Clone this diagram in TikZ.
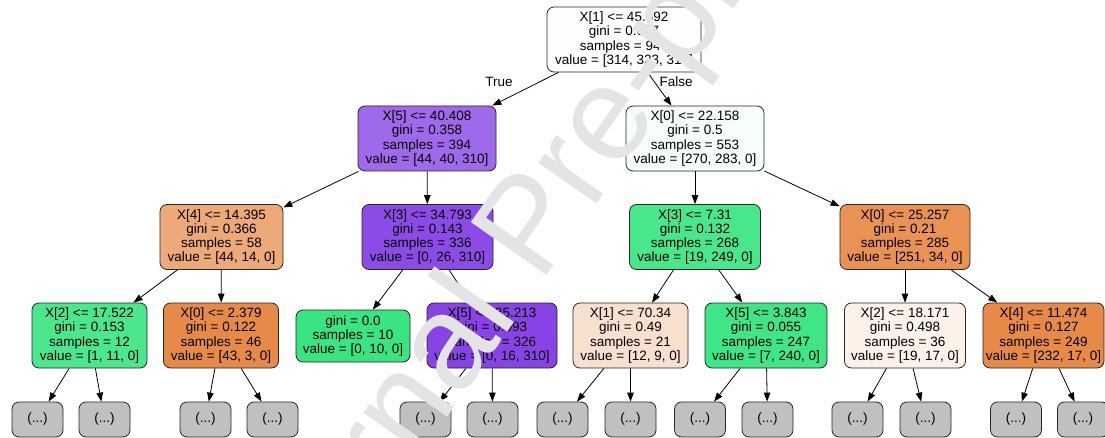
\documentclass[tikz,border=0pt]{standalone}
\usepackage{fontspec}
\setmainfont{Liberation Sans}
\usetikzlibrary{arrows.meta}
\definecolor{cRoot}{HTML}{FCFFFD}
\definecolor{cL}{HTML}{9F69EB}
\definecolor{cR}{HTML}{F6FEF9}
\definecolor{cLL}{HTML}{EDA978}
\definecolor{cLR}{HTML}{8C4AE7}
\definecolor{cRL}{HTML}{48E78B}
\definecolor{cRR}{HTML}{E99254}
\definecolor{cLLL}{HTML}{4BE78D}
\definecolor{cLLR}{HTML}{E78A47}
\definecolor{cLRL}{HTML}{39E581}
\definecolor{cLRR}{HTML}{8743E6}
\definecolor{cRLL}{HTML}{F8E0CE}
\definecolor{cRLR}{HTML}{3FE685}
\definecolor{cRRL}{HTML}{FCF2EA}
\definecolor{cRRR}{HTML}{E78A48}
\definecolor{cLeaf}{HTML}{C0C0C0}
\definecolor{cWm}{RGB}{228,228,228}
\tikzset{
  tn/.style={draw=black!85, line width=0.8pt, rounded corners=7pt, align=center,
    inner sep=0pt, font=\fontsize{13.5}{14.2}\selectfont, text=black},
  big/.style={tn, minimum height=65pt},
  small/.style={tn, minimum height=52pt},
  lf/.style={tn, fill=cLeaf, minimum width=51pt, minimum height=35pt},
  edg/.style={-{Triangle[length=9pt,width=6.5pt]}, line width=0.8pt, black},
  lbl/.style={font=\fontsize{13.5}{14.2}\selectfont, inner sep=0pt},
}
\begin{document}
\begin{tikzpicture}[x=1pt,y=-1pt]
\useasboundingbox (0,0) rectangle (1105,438);
% level 0
\node[big, fill=cRoot, minimum width=154pt] (root) at (624,39.5)
  {X[1] <= 45.592\\gini = 0.667\\samples = 947\\value = [314, 323, 310]};
% level 1
\node[big, fill=cL, minimum width=138pt] (L) at (427,138.5)
  {X[5] <= 40.408\\gini = 0.358\\samples = 394\\value = [44, 40, 310]};
\node[big, fill=cR, minimum width=138pt] (R) at (695,138.5)
  {X[0] <= 22.158\\gini = 0.5\\samples = 553\\value = [270, 283, 0]};
% level 2
\node[big, fill=cLL, minimum width=123pt] (LL) at (221.5,237)
  {X[4] <= 14.395\\gini = 0.366\\samples = 58\\value = [44, 14, 0]};
\node[big, fill=cLR, minimum width=131pt] (LR) at (427.5,237)
  {X[3] <= 34.793\\gini = 0.143\\samples = 336\\value = [0, 26, 310]};
\node[big, fill=cRL, minimum width=131pt] (RL) at (695,237)
  {X[3] <= 7.31\\gini = 0.132\\samples = 268\\value = [19, 249, 0]};
\node[big, fill=cRR, minimum width=130pt] (RR) at (905,237)
  {X[0] <= 25.257\\gini = 0.21\\samples = 285\\value = [251, 34, 0]};
% level 3
\node[big, fill=cLLL, minimum width=115pt] (LLL) at (89.5,335.5)
  {X[2] <= 17.522\\gini = 0.153\\samples = 12\\value = [1, 11, 0]};
\node[big, fill=cLLR, minimum width=115pt] (LLR) at (221,335.5)
  {X[0] <= 2.379\\gini = 0.122\\samples = 46\\value = [43, 3, 0]};
\node[small, fill=cLRL, minimum width=114pt] (LRL) at (353,336)
  {gini = 0.0\\samples = 10\\value = [0, 10, 0]};
\node[big, fill=cLRR, minimum width=130pt] (LRR) at (492,335.5)
  {X[5] <= 35.213\\gini = 0.093\\samples = 326\\value = [0, 16, 310]};
\node[big, fill=cRLL, minimum width=115pt] (RLL) at (630.5,335.5)
  {X[1] <= 70.34\\gini = 0.49\\samples = 21\\value = [12, 9, 0]};
\node[big, fill=cRLR, minimum width=122pt] (RLR) at (766,335.5)
  {X[5] <= 3.843\\gini = 0.055\\samples = 247\\value = [7, 240, 0]};
\node[big, fill=cRRL, minimum width=121pt] (RRL) at (905,335.5)
  {X[2] <= 18.171\\gini = 0.498\\samples = 36\\value = [19, 17, 0]};
\node[big, fill=cRRR, minimum width=121pt] (RRR) at (1043.5,335.5)
  {X[4] <= 11.474\\gini = 0.127\\samples = 249\\value = [232, 17, 0]};
% leaves
\node[lf] (a1) at (37.5,419.5) {(...)};
\node[lf] (a2) at (104.5,419.5) {(...)};
\node[lf] (b1) at (205.5,419.5) {(...)};
\node[lf] (b2) at (272.5,419.5) {(...)};
\node[lf] (c1) at (425.5,419.5) {(...)};
\node[lf] (c2) at (492.5,419.5) {(...)};
\node[lf] (d1) at (562.5,419.5) {(...)};
\node[lf] (d2) at (630.5,419.5) {(...)};
\node[lf] (e1) at (700,419.5) {(...)};
\node[lf] (e2) at (767.5,419.5) {(...)};
\node[lf] (f1) at (857.5,419.5) {(...)};
\node[lf] (f2) at (925.5,419.5) {(...)};
\node[lf] (g1) at (1016,419.5) {(...)};
\node[lf] (g2) at (1083,419.5) {(...)};
% edges
\draw[edg] (root) -- (L);
\draw[edg] (root) -- (R);
\draw[edg] (L) -- (LL);
\draw[edg] (L) -- (LR);
\draw[edg] (R) -- (RL);
\draw[edg] (R) -- (RR);
\draw[edg] (LL) -- (LLL);
\draw[edg] (LL) -- (LLR);
\draw[edg] (LR) -- (LRL);
\draw[edg] (LR) -- (LRR);
\draw[edg] (RL) -- (RLL);
\draw[edg] (RL) -- (RLR);
\draw[edg] (RR) -- (RRL);
\draw[edg] (RR) -- (RRR);
\draw[edg] (LLL) -- (a1);
\draw[edg] (LLL) -- (a2);
\draw[edg] (LLR) -- (b1);
\draw[edg] (LLR) -- (b2);
\draw[edg] (LRR) -- (c1);
\draw[edg] (LRR) -- (c2);
\draw[edg] (RLL) -- (d1);
\draw[edg] (RLL) -- (d2);
\draw[edg] (RLR) -- (e1);
\draw[edg] (RLR) -- (e2);
\draw[edg] (RRL) -- (f1);
\draw[edg] (RRL) -- (f2);
\draw[edg] (RRR) -- (g1);
\draw[edg] (RRR) -- (g2);
% edge labels
\node[lbl] (tlab) at (499,81.5) {True};
\node[lbl, anchor=west] (flab) at (659.5,81.5) {False};
% watermark
\node[rotate=55, anchor=base west, inner sep=0pt, text=cWm,
  font=\fontsize{134}{134}\selectfont] (wmark) at (267,675) {Journal Pre-proof};
\end{tikzpicture}
\end{document}
